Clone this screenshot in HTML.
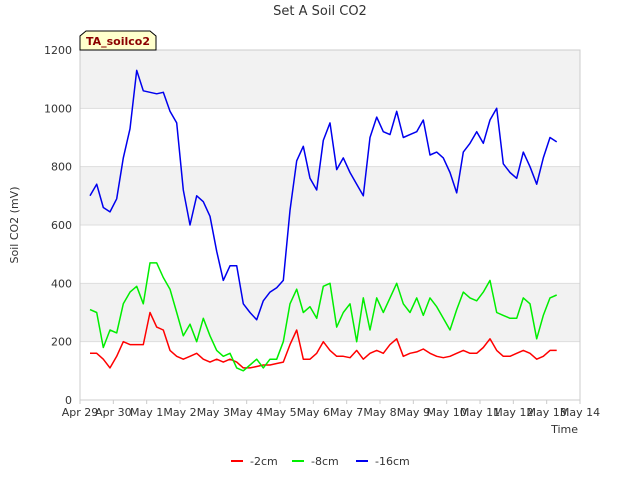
<!DOCTYPE html>
<html><head><meta charset="utf-8"><style>
body{margin:0;background:#fff;font-family:"Liberation Sans","DejaVu Sans",sans-serif}
svg text{font-family:"DejaVu Sans","Liberation Sans",sans-serif}
</style></head><body>
<svg id="chart" width="640" height="480" xmlns="http://www.w3.org/2000/svg">
<text x="320" y="15" text-anchor="middle" font-size="13" fill="#333">Set A Soil CO2</text>
<g id="bands"></g><g id="grid"></g>
<rect x="80" y="50" width="500" height="350" fill="none" stroke="#ccc"/>
<g id="series"></g><g id="axes"></g>
<text transform="translate(18,225) rotate(-90)" text-anchor="middle" font-size="11" fill="#333">Soil CO2 (mV)</text>
<text x="578" y="433" text-anchor="end" font-size="11" fill="#333">Time</text>
<g>
<path d="M80,50 L80,36 L86,31 L150,31 L156,36 L156,50 Z" fill="#ffffcc" stroke="#000"/>
<text x="118" y="45" text-anchor="middle" font-size="11" font-weight="bold" fill="#8b0000">TA_soilco2</text>
</g>
<g id="legend"></g>
</svg>
<script>
const times=[0.3,0.5,0.7,0.9,1.1,1.3,1.5,1.7,1.9,2.1,2.3,2.5,2.7,2.9,3.1,3.3,3.5,3.7,3.9,4.1,4.3,4.5,4.7,4.9,5.1,5.3,5.5,5.7,5.9,6.1,6.3,6.5,6.7,6.9,7.1,7.3,7.5,7.7,7.9,8.1,8.3,8.5,8.7,8.9,9.1,9.3,9.5,9.7,9.9,10.1,10.3,10.5,10.7,10.9,11.1,11.3,11.5,11.7,11.9,12.1,12.3,12.5,12.7,12.9,13.1,13.3,13.5,13.7,13.9,14.1,14.3];
const s16=[700,740,660,645,690,830,930,1130,1060,1055,1050,1055,990,950,720,600,700,680,630,510,410,460,460,330,300,275,340,370,385,410,650,820,870,760,720,890,950,790,830,780,740,700,900,970,920,910,990,900,910,920,960,840,850,830,780,710,850,880,920,880,960,1000,810,780,760,850,800,740,830,900,885];
const s8=[310,300,180,240,230,330,370,390,330,470,470,420,380,300,220,260,200,280,220,170,150,160,110,100,120,140,110,140,140,200,330,380,300,320,280,390,400,250,300,330,200,350,240,350,300,350,400,330,300,350,290,350,320,280,240,310,370,350,340,370,410,300,290,280,280,350,330,210,290,350,360];
const s2=[160,160,140,110,150,200,190,190,190,300,250,240,170,150,140,150,160,140,130,140,130,140,130,110,110,115,120,120,125,130,190,240,140,140,160,200,170,150,150,145,170,140,160,170,160,190,210,150,160,165,175,160,150,145,150,160,170,160,160,180,210,170,150,150,160,170,160,140,150,170,170];
const xLabels=["Apr 29","Apr 30","May 1","May 2","May 3","May 4","May 5","May 6","May 7","May 8","May 9","May 10","May 11","May 12","May 13","May 14"];
const yTicks=[0,200,400,600,800,1000,1200];
const seriesNames=["-2cm","-8cm","-16cm"];
const colors=["#ff0000","#00ee00","#0000ee"];
const NS="http://www.w3.org/2000/svg";
const X=d=>80+d*500/15, Y=v=>400-v*350/1200;
function mk(t,a,p){const e=document.createElementNS(NS,t);for(const k in a)e.setAttribute(k,a[k]);p.appendChild(e);return e;}
const bands=document.getElementById('bands'),grid=document.getElementById('grid'),axes=document.getElementById('axes');
for(let i=0;i<yTicks.length-1;i++){ if(i%2===1){const r=mk('rect',{x:80,y:Y(yTicks[i+1]),width:500,height:Y(yTicks[i])-Y(yTicks[i+1]),fill:'#f2f2f2'},bands);

}}
yTicks.forEach(v=>{const l=mk('line',{x1:80,x2:580,y1:Y(v),y2:Y(v),stroke:'#ddd'},grid);


const t=mk('text',{x:72,y:Y(v)+4,'text-anchor':'end','font-size':11,fill:'#333'},axes);t.textContent=v;

});
xLabels.forEach((s,i)=>{const t=mk('text',{x:X(i),y:416,'text-anchor':'middle','font-size':11,fill:'#333'},axes);t.textContent=s;


mk('line',{x1:X(i),x2:X(i),y1:400,y2:404,stroke:'#ccc'},axes);});
const sg=document.getElementById('series');
[s2,s8,s16].forEach((arr,k)=>{const p=mk('polyline',{points:arr.map((v,i)=>X(times[i]).toFixed(1)+','+Y(v).toFixed(1)).join(' '),fill:'none',stroke:colors[k],'stroke-width':1.5,'stroke-linejoin':'round'},sg);

});
const lg=document.getElementById('legend');const lx=[231,292,356];
seriesNames.forEach((n,k)=>{const g=mk('g',{},lg);


mk('line',{x1:lx[k],x2:lx[k]+12,y1:461,y2:461,stroke:colors[k],'stroke-width':2},g);
const t=mk('text',{x:lx[k]+19,y:465,'font-size':11,fill:'#333'},g);t.textContent=n;});
</script>
</body></html>
